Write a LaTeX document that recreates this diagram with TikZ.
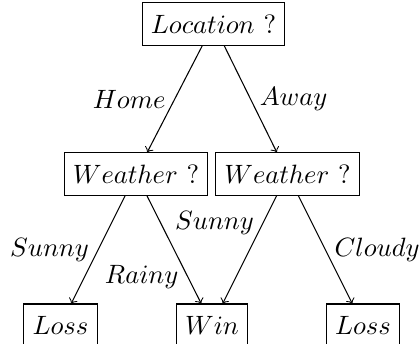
\documentclass[tikz,border=0pt]{standalone}
\begin{document}
\begin{tikzpicture}[x=0.3774pt, y=-0.3774pt,
  decision/.style={draw, rectangle, line width=0.4pt, inner xsep=3.33pt, inner ysep=4.5pt},
  branch/.style={->, line width=0.4pt},
  lbl/.style={inner sep=3.33pt}]
  \useasboundingbox (0,0) rectangle (420,343);
  % tree nodes
  \node[decision] (loc) at (213.5,24) {$Location$ ?};
  \node[decision] (w1) at (136,174) {$Weather$ ?};
  \node[decision] (w2) at (287.5,174) {$Weather$ ?};
  \node[decision] (l1) at (60.5,325) {$Loss$};
  \node[decision] (win) at (212,325) {$Win$};
  \node[decision] (l2) at (363,325) {$Loss$};
  % branches with their labels
  \draw[branch] (loc) -- node[lbl, left] {$Home$} (w1);
  \draw[branch] (loc) -- node[lbl, right] {$Away$} (w2);
  \draw[branch] (w1) -- node[lbl, left] {$Sunny$} (l1);
  \draw[branch] (w1) -- node[lbl, left, near end] {$Rainy$} (win);
  \draw[branch] (w2) -- node[lbl, left, near start] {$Sunny$} (win);
  \draw[branch] (w2) -- node[lbl, right] {$Cloudy$} (l2);
\end{tikzpicture}
\end{document}
